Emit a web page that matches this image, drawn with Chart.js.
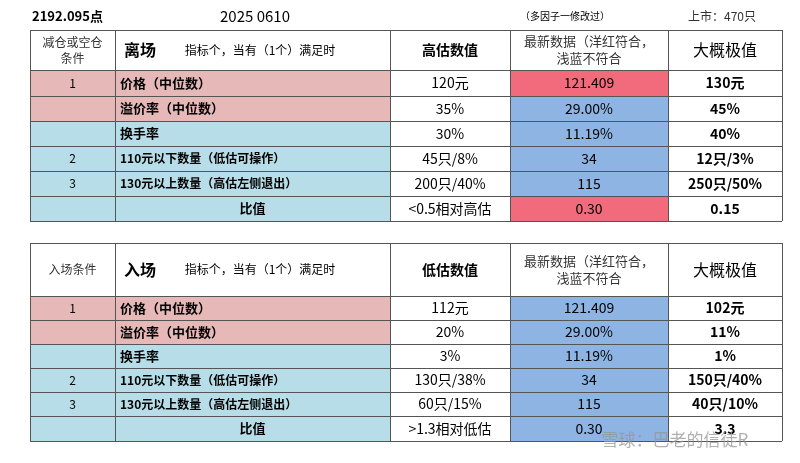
<!DOCTYPE html><html><head><meta charset="utf-8">
<script src="https://cdn.jsdelivr.net/npm/chart.js@4/dist/chart.umd.min.js"></script>
<style>html,body{margin:0;background:#fff}#w{width:800px;height:463px}</style></head><body><div id="w"><canvas id="c"></canvas></div>
<script>
const titleTexts=["2192.095点","2025 0610","（多因子一修改过）","上市：470只"];
const header1=["减仓或空仓\n条件","离场","高估数值","最新数据（洋红符合，\n浅蓝不符合","大概极值"];
const header2=["入场条件","入场","低估数值","最新数据（洋红符合，\n浅蓝不符合","大概极值"];
const headerNote="指标个，当有（1个）满足时";
const rowNums=["1","","","2","3",""];
const rowLabels=["价格（中位数）","溢价率（中位数）","换手率","110元以下数量（低估可操作）","130元以上数量（高估左侧退出）","比值"];
const exitThresh=["120元","35%","30%","45只/8%","200只/40%","<0.5相对高估"];
const exitLatest=["121.409","29.00%","11.19%","34","115","0.30"];
const exitExtreme=["130元","45%","40%","12只/3%","250只/50%","0.15"];
const exitMatch=[true,false,false,false,false,true];
const entryThresh=["112元","20%","3%","130只/38%","60只/15%",">1.3相对低估"];
const entryLatest=["121.409","29.00%","11.19%","34","115","0.30"];
const entryExtreme=["102元","11%","1%","150只/40%","40只/10%","3.3"];
const entryMatch=[false,false,false,false,false,false];
const watermark="雪球：巴老的信徒R";

const colX=[30,115,390,510,668,782];
const rows1=[30,70,96,121,146,171,196,221];
const rows2=[243,296,320,344,368,392,416,441];
const F='"Noto Sans CJK SC","Noto Sans",sans-serif';

const tablePlugin={id:'tbl',afterDraw(ch){
 const c=ch.ctx,X=v=>ch.scales.x.getPixelForValue(v),Y=v=>ch.scales.y.getPixelForValue(v);
 c.save();
 function txt(s,x,y,size,bold,align,color){c.font=(bold?'bold ':'')+size+'px '+F;c.fillStyle=color||'#000';c.textAlign=align||'center';c.textBaseline='middle';c.fillText(s,x,y);}
 txt(titleTexts[0],X(32),Y(16),13,true,'left');
 txt(titleTexts[1],X(255),Y(16),15,false);
 txt(titleTexts[2],X(565),Y(16),10,false);
 txt(titleTexts[3],X(722),Y(16),12,false,'center','#333');
 function table(rows,hdr,th,la,ex,match){
  // header
  const hy=(Y(rows[0])+Y(rows[1]))/2;
  hdr[0].split('\n').forEach((s,i,a)=>txt(s,(X(colX[0])+X(colX[1]))/2,hy+(i-(a.length-1)/2)*16,12,false,'center','#333'));
  txt(hdr[1],X(140),hy,16,true);
  txt(headerNote,X(260),hy,12,false);
  txt(hdr[2],(X(colX[2])+X(colX[3]))/2,hy,14,true);
  hdr[3].split('\n').forEach((s,i,a)=>txt(s,(X(colX[3])+X(colX[4]))/2,hy+(i-(a.length-1)/2)*17,13,false,'center','#333'));
  txt(hdr[4],(X(colX[4])+X(colX[5]))/2,hy,16,false);
  for(let r=0;r<6;r++){
   const y0=Y(rows[r+1]),y1=Y(rows[r+2]),ym=(y0+y1)/2;
   const lc=r<2?'#e6b8b7':'#b7dee8';
   c.fillStyle=lc;c.fillRect(X(colX[0]),y0,X(colX[2])-X(colX[0]),y1-y0);
   c.fillStyle=match[r]?'#f26b7c':'#8db4e2';c.fillRect(X(colX[3]),y0,X(colX[4])-X(colX[3]),y1-y0);
   txt(rowNums[r],(X(colX[0])+X(colX[1]))/2,ym,12,false);
   if(r==5) txt(rowLabels[r],(X(colX[1])+X(colX[2]))/2,ym,13,true);
   else txt(rowLabels[r],X(colX[1]+5),ym,r>=3?12:13,true,'left');
   txt(th[r],(X(colX[2])+X(colX[3]))/2,ym,14,false);
   txt(la[r],(X(colX[3])+X(colX[4]))/2,ym,14,false);
   txt(ex[r],(X(colX[4])+X(colX[5]))/2,ym,14,true);
  }
  c.strokeStyle='#555';c.lineWidth=1;
  rows.forEach(v=>{c.beginPath();c.moveTo(X(colX[0]),Y(v)+.5);c.lineTo(X(colX[5]),Y(v)+.5);c.stroke();});
  colX.forEach((v,i)=>{c.beginPath();c.moveTo(X(v)+.5,Y(rows[0]));c.lineTo(X(v)+.5,Y(rows[7]));c.stroke();});
  // clear separators in merged number column for rows with blank nums
 }
 table(rows1,header1,exitThresh,exitLatest,exitExtreme,exitMatch);
 table(rows2,header2,entryThresh,entryLatest,entryExtreme,entryMatch);
 txt(watermark,X(675),Y(440),17,false,'center','rgba(150,150,150,0.75)');
 c.restore();
}};
new Chart(document.getElementById('c'),{type:'scatter',data:{datasets:[{data:[]}]},
 options:{animation:false,responsive:true,maintainAspectRatio:false,layout:{padding:0},
 plugins:{legend:{display:false},tooltip:{enabled:false}},
 scales:{x:{type:'linear',min:0,max:800,display:false},y:{type:'linear',min:0,max:463,reverse:true,display:false}}},
 plugins:[tablePlugin]});
</script></body></html>
